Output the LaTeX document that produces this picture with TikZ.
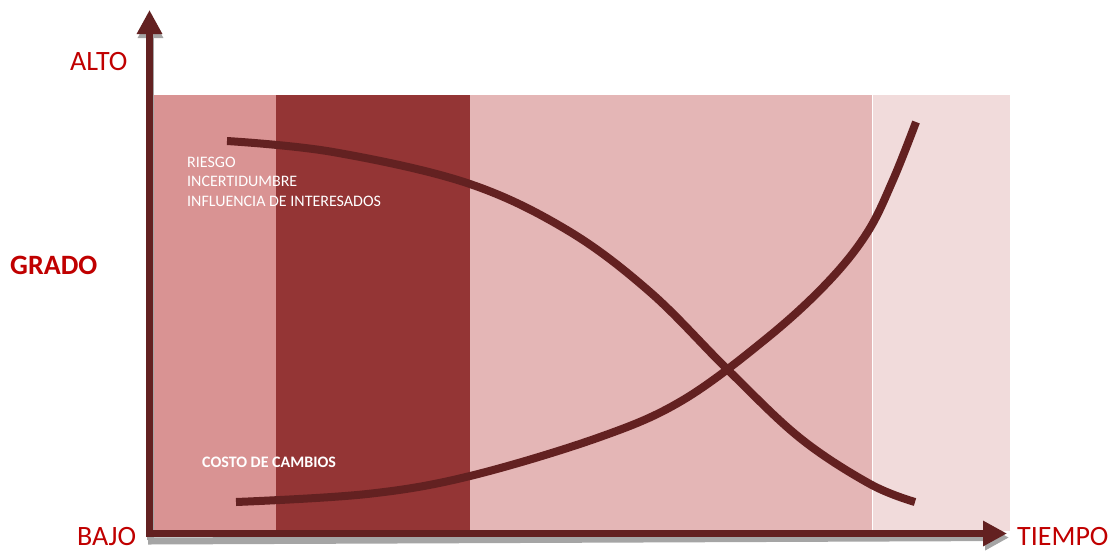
\documentclass[tikz,border=0pt]{standalone}
\usepackage{fontspec}
\setmainfont{Carlito}
\usetikzlibrary{arrows.meta}
\definecolor{bandA}{RGB}{217,147,147}
\definecolor{bandB}{RGB}{148,53,53}
\definecolor{bandC}{RGB}{228,182,182}
\definecolor{bandD}{RGB}{241,219,219}
\definecolor{curvecol}{RGB}{99,33,33}
\definecolor{axiscol}{RGB}{99,33,33}
\definecolor{labelred}{RGB}{192,0,0}
\definecolor{shadowgray}{RGB}{165,165,165}
\tikzset{
  curve/.style={draw=curvecol,line width=8pt,line cap=butt,line join=round},
  axisline/.style={draw=axiscol,line width=7pt,-{Triangle[length=24pt,width=24pt]}},
  axisshadow/.style={draw=shadowgray,line width=7pt,-{Triangle[length=24pt,width=24pt]}},
  axislabel/.style={text=labelred,font=\fontsize{28}{30}\selectfont,inner sep=0pt,text depth=0pt},
  innerlabel/.style={text=white,font=\fontsize{16}{19.5}\selectfont,inner sep=0pt,align=left},
}
\begin{document}
\begin{tikzpicture}[x=1pt,y=-1pt]
\useasboundingbox (0,0) rectangle (1118,550);
% bands
\fill[bandA] (151,95) rectangle (276,531);
\fill[bandB] (276,95) rectangle (470,531);
\fill[bandC] (470,95) rectangle (872,531);
\fill[bandD] (873,95) rectangle (1010,531);
% axes shadows
\draw[axisshadow] (148,541) -- (1009,537.5);
\draw[axisshadow] (150.5,540) -- (150.5,14);
% axes
\draw[axisline] (146,533.5) -- (1007,533.5);
\draw[axisline] (149.5,537) -- (149.5,10);
% curves
\draw[curve] plot[smooth,tension=0.6] coordinates {
 (227,141) (333,152) (467,183) (567,230) (650,292) (728,370)
 (800,438) (870,484) (915,502)};
\draw[curve] plot[smooth,tension=0.6] coordinates {
 (236,502) (367,494) (470,476) (600,437) (683,400) (767,338)
 (827,283) (867,233) (893,180) (916,122)};
% labels
\node[axislabel,anchor=base west] (alto) at (70,70) {ALTO};
\node[axislabel,anchor=base west,font=\fontsize{28}{30}\selectfont\bfseries] (grado) at (10,274) {GRADO};
\node[axislabel,anchor=base west] (bajo) at (77,545) {BAJO};
\node[axislabel,anchor=base west] (tiempo) at (1017,545) {TIEMPO};
\node[innerlabel,anchor=base west] (riesgo) at (187,206) {RIESGO\\INCERTIDUMBRE\\INFLUENCIA DE INTERESADOS};
\node[innerlabel,anchor=base west,font=\fontsize{16}{19.5}\selectfont\bfseries] (costo) at (202,467) {COSTO DE CAMBIOS};
\end{tikzpicture}
\end{document}
